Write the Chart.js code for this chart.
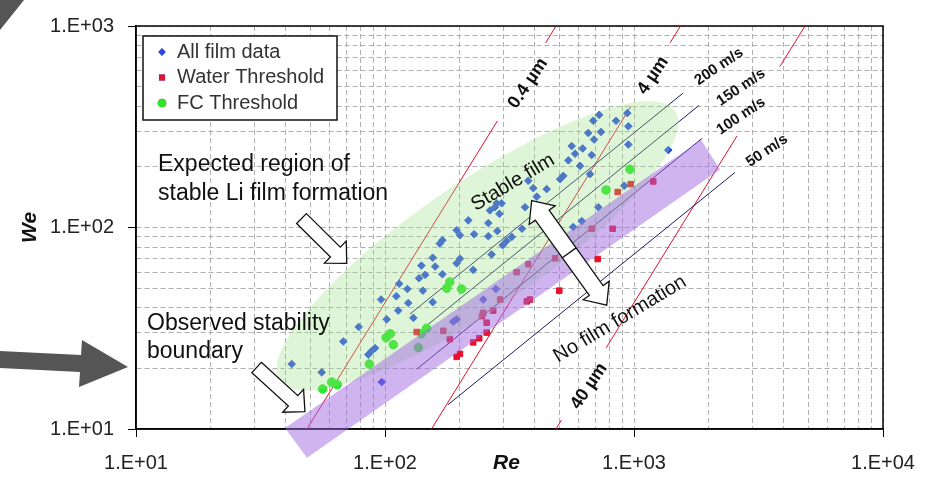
<!DOCTYPE html>
<html>
<head>
<meta charset="utf-8">
<script src="https://cdn.jsdelivr.net/npm/chart.js@4.4.1/dist/chart.umd.min.js"></script>
<style>
  html, body { margin: 0; padding: 0; background: #fff; }
</style>
</head>
<body>
<canvas id="chart" width="934" height="479"></canvas>
<script>
// Re / We values
const filmRe = [155.5, 200, 194, 140, 159, 145, 137, 170, 226, 114, 123, 142, 96.4, 111, 124, 155.5, 113, 130, 101.6, 78.4,
  68, 91.2, 88.4, 85.7, 42.2, 55.7, 97, 248, 194, 188, 268, 279, 376, 394, 446, 407, 281, 294, 276.5, 264,
  288, 365, 216, 260, 282.5, 194, 200, 228, 260, 323, 308, 355, 166, 170, 297, 725, 940, 686, 847, 949,
  655, 737, 691, 562, 622, 949, 580, 676, 545, 607, 1373, 520, 505, 666, 914, 719, 617, 570]
const filmWe = [70.8, 70, 66.4, 64.7, 64, 58.2, 56, 58.6, 61.6, 52.6, 49.5, 48.6, 43.9, 45.6, 42.2, 42.6, 38.7, 35.6, 35, 32.1,
  27.2, 25.2, 24.4, 23.4, 21, 19.1, 17.1, 43.9, 35, 34.1, 73.5, 49.5, 170.6, 156.9, 155.1, 142.3, 131.9, 131.9, 126.1, 121.5,
  116.9, 126.1, 108.5, 105.2, 96.1, 96.9, 91.5, 92.6, 90.5, 89.8, 85.8, 98.6, 83.2, 86.5, 81.7, 362, 369.5, 338.6, 338.6, 317.9,
  294.6, 298, 273.2, 253.5, 246.7, 258.1, 232.3, 228.9, 215.4, 202.2, 242.3, 180.5, 173.7, 183.9, 161.2, 126.1, 107.6, 100.6]

const waterRe = [134, 171.5, 182, 245, 256, 256, 239, 226, 200, 194, 715, 501, 376, 338, 290, 371, 382, 272, 248, 482, 860, 970, 1195, 676, 821]
const waterWe = [30.3, 30.7, 27.9, 36.3, 33.7, 30.1, 28.2, 26.9, 23.6, 22.8, 69.8, 48.6, 65.7, 60, 43.9, 43, 43.9, 38.7, 37.7, 70.3, 150, 164.1, 169.2, 98.6, 98.6]

const fcRe = [182, 177, 203, 105, 101, 108, 86.5, 61.1, 64.3, 56.2, 147, 140, 136, 964, 772]
const fcWe = [53.6, 50, 49.5, 29.7, 28.4, 26.2, 21, 17.1, 16.6, 15.8, 31.6, 29.7, 25.4, 194.5, 153.4]

// constant velocity lines: [start, end]
const velocityLabels = ['200 m/s', '150 m/s', '100 m/s', '50 m/s']
const velocityRe = [[126, 1573], [138, 1824], [134, 1875], [179, 2544]]
const velocityWe = [[37.2, 464], [30.6, 403.6], [19.8, 276.6], [13.2, 187.6]]

// constant droplet diameter lines, broken where the labels sit
const diameterLabels = ['0.4 µm', '4 µm', '40 µm']
const diameterRe = [[[48.6, 282.5], [441.6, 486.2]], [[153.7, 972], [1396, 1537]], [[486, 511], [772.8, 2593], [3853, 4860]]]
const diameterWe = [[[10, 337.6], [825, 1000]], [[10, 399.9], [825, 1000]], [[10, 11.07], [25.28, 284.8], [628.7, 1000]]]

const xDecades = [10, 100, 1000, 10000]
const xTickLabels = ['1.E+01', '1.E+02', '1.E+03', '1.E+04']
const yDecades = [10, 100, 1000]
const yTickLabels = ['1.E+01', '1.E+02', '1.E+03']

const FONT = 'Arial, "Liberation Sans", sans-serif'
Chart.defaults.font.family = FONT

function logTicks(decades) {
  const out = []
  decades.slice(0, -1).forEach(d => { for (let m = 1; m < 10; m++) out.push(d * m) })
  out.push(decades[decades.length - 1])
  return out
}
const pts = (xs, ys) => xs.map((x, i) => ({ x, y: ys[i] }))

const datasets = [
  { label: 'All film data', data: pts(filmRe, filmWe), backgroundColor: '#2848e6', borderColor: '#2848e6',
    pointStyle: 'rectRot', pointRadius: 3.8, legendRadius: 2.6, order: 1 },
  { label: 'Water Threshold', data: pts(waterRe, waterWe), backgroundColor: '#e8102c', borderColor: '#e8102c',
    pointStyle: 'rect', pointRadius: 3.9, legendRadius: 3.2, order: 1 },
  { label: 'FC Threshold', data: pts(fcRe, fcWe), backgroundColor: '#28e628', borderColor: '#28e628',
    pointStyle: 'circle', pointRadius: 4.3, legendRadius: 3.6, order: 1 }
]
velocityLabels.forEach((name, i) => {
  datasets.push({ label: name, data: pts(velocityRe[i], velocityWe[i]), showLine: true, borderColor: '#1c1c5c',
    borderWidth: 1, pointRadius: 0, order: 2 })
})
diameterLabels.forEach((name, i) => {
  diameterRe[i].forEach((seg, j) => {
    datasets.push({ label: name, data: pts(seg, diameterWe[i][j]), showLine: true, borderColor: '#e0102c',
      borderWidth: 1, pointRadius: 0, order: 2 })
  })
})

// annotation geometry (Re, We)
const stableRegion = { center: [235.2, 81.1], tip: [1463, 378.8], halfWidth: 63 }
const boundaryBand = [[39.7, 10.11], [1858, 272.2], [2215, 193.9], [48.6, 7.2]]
const notes = [
  { text: 'Expected region of', at: [12.26, 205], angle: 0, font: '23px ' + FONT, align: 'left' },
  { text: 'stable Li film formation', at: [12.26, 147.7], angle: 0, font: '23px ' + FONT, align: 'left' },
  { text: 'Observed stability', at: [11.07, 33.2], angle: 0, font: '23px ' + FONT, align: 'left' },
  { text: 'boundary', at: [11.07, 24.2], angle: 0, font: '23px ' + FONT, align: 'left' },
  { text: 'Stable film', at: [326.6, 167.3], angle: -31, font: '20px ' + FONT },
  { text: 'No film formation', at: [878.8, 35.1], angle: -31, font: '20px ' + FONT },
  { text: diameterLabels[0], at: [375.3, 518.8], angle: -56, font: 'bold 18px ' + FONT },
  { text: diameterLabels[1], at: [1192, 568], angle: -56, font: 'bold 18px ' + FONT },
  { text: diameterLabels[2], at: [659.6, 16.3], angle: -56, font: 'bold 18px ' + FONT },
  { text: velocityLabels[0], at: [2195, 628.7], angle: -34, font: 'bold 15px ' + FONT },
  { text: velocityLabels[1], at: [2690, 495.8], angle: -34, font: 'bold 15px ' + FONT },
  { text: velocityLabels[2], at: [2690, 357.1], angle: -34, font: 'bold 15px ' + FONT },
  { text: velocityLabels[3], at: [3421, 240.3], angle: -34, font: 'bold 15px ' + FONT }
]
const arrows = [
  { from: [46.2, 110.7], to: [70.2, 66.4], shaft: 14, head: 31, headLen: 16 },
  { from: [30.5, 20.2], to: [47.7, 12.2], shaft: 14, head: 31, headLen: 16 },
  { from: [388.3, 136.1], to: [777, 41.2], shaft: 17, head: 32, headLen: 18, both: true }
]

function blockArrow(ctx, x1, y1, x2, y2, a) {
  const len = Math.hypot(x2 - x1, y2 - y1)
  const s = a.shaft / 2, h = a.head / 2, hl = a.headLen
  ctx.save()
  ctx.translate(x1, y1)
  ctx.rotate(Math.atan2(y2 - y1, x2 - x1))
  ctx.beginPath()
  if (a.both) {
    ctx.moveTo(0, 0); ctx.lineTo(hl, -h); ctx.lineTo(hl, -s); ctx.lineTo(len - hl, -s); ctx.lineTo(len - hl, -h)
    ctx.lineTo(len, 0); ctx.lineTo(len - hl, h); ctx.lineTo(len - hl, s); ctx.lineTo(hl, s); ctx.lineTo(hl, h)
  } else {
    ctx.moveTo(0, -s); ctx.lineTo(len - hl, -s); ctx.lineTo(len - hl, -h); ctx.lineTo(len, 0)
    ctx.lineTo(len - hl, h); ctx.lineTo(len - hl, s); ctx.lineTo(0, s)
  }
  ctx.closePath()
  ctx.fillStyle = '#fff'
  ctx.fill()
  ctx.lineWidth = 1.3
  ctx.strokeStyle = '#111'
  ctx.stroke()
  if (a.both) {
    ctx.beginPath(); ctx.moveTo(len / 2, -s); ctx.lineTo(len / 2, s); ctx.stroke()
  }
  ctx.restore()
}

const decorations = {
  id: 'decorations',
  beforeDatasetsDraw(chart) {
    const { ctx, chartArea: a } = chart
    ctx.save()
    ctx.strokeStyle = '#000'
    ctx.lineWidth = 1.5
    ctx.strokeRect(a.left, a.top, a.right - a.left, a.bottom - a.top)
    ctx.restore()
  },
  afterDatasetsDraw(chart) {
    const { ctx, chartArea: area, scales: { x, y } } = chart
    const P = ([re, we]) => [x.getPixelForValue(re), y.getPixelForValue(we)]
    ctx.save()

    // shaded regions
    const [cx, cy] = P(stableRegion.center)
    const [tx, ty] = P(stableRegion.tip)
    ctx.beginPath()
    ctx.ellipse(cx, cy, Math.hypot(tx - cx, ty - cy), stableRegion.halfWidth, Math.atan2(ty - cy, tx - cx), 0, Math.PI * 2)
    ctx.fillStyle = 'rgba(155,225,130,0.32)'
    ctx.fill()

    ctx.beginPath()
    boundaryBand.forEach((p, i) => { const [px, py] = P(p); i ? ctx.lineTo(px, py) : ctx.moveTo(px, py) })
    ctx.closePath()
    ctx.fillStyle = 'rgba(160,105,226,0.5)'
    ctx.fill()

    // block arrows
    arrows.forEach(a => {
      const [x1, y1] = P(a.from), [x2, y2] = P(a.to)
      blockArrow(ctx, x1, y1, x2, y2, a)
    })

    // labels
    ctx.fillStyle = '#111'
    notes.forEach(n => {
      const [px, py] = P(n.at)
      ctx.save()
      ctx.translate(px, py)
      ctx.rotate(n.angle * Math.PI / 180)
      ctx.font = n.font
      ctx.textAlign = n.align || 'center'
      ctx.textBaseline = 'middle'
      ctx.fillText(n.text, 0, 0)
      ctx.restore()
    })

    // legend box
    const lx = area.left + 7, ly = area.top + 10
    ctx.fillStyle = '#fff'
    ctx.fillRect(lx, ly, 194, 84)
    ctx.strokeStyle = '#111'
    ctx.lineWidth = 1.5
    ctx.strokeRect(lx, ly, 194, 84)
    chart.data.datasets.slice(0, 3).forEach((ds, i) => {
      const iy = ly + 16 + i * 25.5
      Chart.helpers.drawPoint(ctx, { pointStyle: ds.pointStyle, radius: ds.legendRadius, borderWidth: 1, rotation: 0 }, lx + 19, iy)
      ctx.fillStyle = ds.backgroundColor
      ctx.strokeStyle = ds.borderColor
      ctx.fill(); ctx.stroke()
      ctx.fillStyle = '#333'
      ctx.font = '20px ' + FONT
      ctx.textAlign = 'left'
      ctx.textBaseline = 'middle'
      ctx.fillText(ds.label, lx + 34, iy)
    })

    // axis titles
    ctx.fillStyle = '#111'
    ctx.font = 'italic bold 21px ' + FONT
    ctx.textAlign = 'center'
    ctx.textBaseline = 'middle'
    ctx.fillText('Re', (area.left + area.right) / 2 - 3, area.bottom + 34)
    ctx.save()
    ctx.translate(30, (area.top + area.bottom) / 2)
    ctx.rotate(-Math.PI / 2)
    ctx.fillText('We', 0, 0)
    ctx.restore()

    // slide arrows left of the chart
    ctx.fillStyle = '#555'
    ctx.beginPath()
    ctx.moveTo(0, 351); ctx.lineTo(81, 355); ctx.lineTo(82, 340); ctx.lineTo(128, 367)
    ctx.lineTo(79, 387); ctx.lineTo(80, 372); ctx.lineTo(0, 368)
    ctx.closePath(); ctx.fill()
    ctx.beginPath()
    ctx.moveTo(0, 0); ctx.lineTo(24, 0); ctx.lineTo(0, 30)
    ctx.closePath(); ctx.fill()
    ctx.restore()
  }
}

const tickLabel = (decades, labels) => v => {
  const i = decades.indexOf(v)
  return i >= 0 ? labels[i] : ''
}
const majorTick = decades => c => (c.tick && decades.includes(c.tick.value) ? '#000' : 'rgba(0,0,0,0)')

new Chart(document.getElementById('chart').getContext('2d'), {
  type: 'scatter',
  data: { datasets },
  options: {
    responsive: false,
    animation: false,
    devicePixelRatio: 1,
    layout: { padding: { top: 22, right: 51, left: 0, bottom: 0 } },
    plugins: { legend: { display: false }, tooltip: { enabled: false } },
    scales: {
      x: {
        type: 'logarithmic', min: 10, max: 10000,
        afterBuildTicks: axis => { axis.ticks = logTicks(xDecades).map(value => ({ value })) },
        afterFit: axis => { axis.height = 50 },
        ticks: { autoSkip: false, maxRotation: 0, padding: 14, color: '#222', font: { size: 20 },
          callback: tickLabel(xDecades, xTickLabels) },
        grid: { color: '#b0b0b0', lineWidth: 1, tickLength: 8, tickColor: majorTick(xDecades) },
        border: { color: '#000', width: 1.5, dash: [5, 3] }
      },
      y: {
        type: 'logarithmic', min: 10, max: 1000,
        afterBuildTicks: axis => { axis.ticks = logTicks(yDecades).map(value => ({ value })) },
        afterFit: axis => { axis.width = 136 },
        ticks: { autoSkip: false, padding: 14, color: '#222', font: { size: 20 },
          callback: tickLabel(yDecades, yTickLabels) },
        grid: { color: '#b0b0b0', lineWidth: 1, tickLength: 8, tickColor: majorTick(yDecades) },
        border: { color: '#000', width: 1.5, dash: [5, 3] }
      }
    }
  },
  plugins: [decorations]
})
</script>
</body>
</html>
